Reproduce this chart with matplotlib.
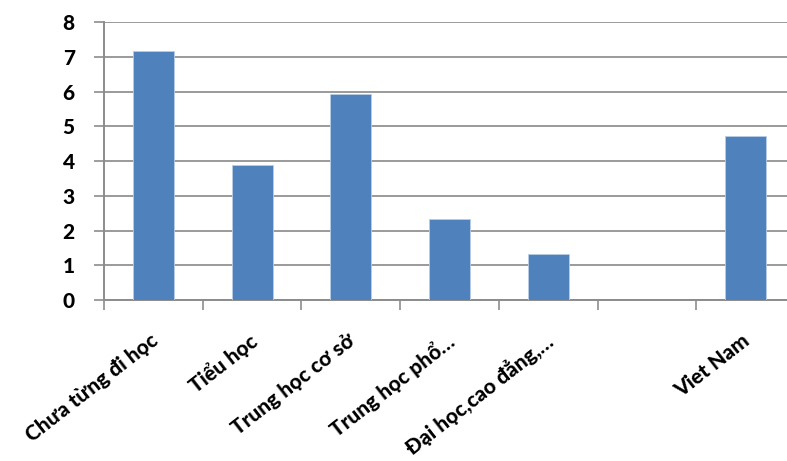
import matplotlib
matplotlib.use("Agg")
import matplotlib.pyplot as plt
import matplotlib.transforms as mtransforms

categories = ["Chưa từng đi học", "Tiểu học", "Trung học cơ sở", "Trung học phổ…",
              "Đại học,cao đẳng,…", "", "Viet Nam"]
values = [7.17, 3.89, 5.93, 2.32, 1.31, None, 4.73]
y_ticks = [0, 1, 2, 3, 4, 5, 6, 7, 8]

plt.rcParams['font.family'] = ['Lato', 'Open Sans', 'DejaVu Sans']

fig = plt.figure(figsize=(7.87, 4.61), dpi=100)
ax = fig.add_axes([104/787, 1-300/461, 691/787, 278/461])

xs = [i for i, v in enumerate(values) if v is not None]
vs = [v for v in values if v is not None]
ax.bar(xs, vs, width=0.415, color="#4F81BD", edgecolor="#B9CDE5", linewidth=0.6, zorder=3)

ax.set_xlim(-0.5, len(categories) - 0.5)
ax.set_ylim(0, 8)
ax.set_yticks(y_ticks)
ax.set_yticklabels([str(t) for t in y_ticks], fontsize=15, fontweight='black')
ax.yaxis.grid(True, color="#9A9A9A", linewidth=1.4, zorder=0)
ax.set_axisbelow(True)

# category boundaries as ticks
ax.set_xticks([i - 0.5 for i in range(len(categories) + 1)], minor=False)
ax.set_xticklabels([])
ax.set_xticks(list(range(len(categories))), minor=True)
ax.set_xticklabels(categories, minor=True, rotation=38, ha='right', va='top',
                   rotation_mode='anchor', fontsize=15, fontweight='black')
ax.tick_params(axis='x', which='minor', length=0, pad=22)
ax.tick_params(axis='x', which='major', length=7, width=1.2, color="#8C8C8C", direction='out')
ax.tick_params(axis='y', length=7, width=1.2, color="#8C8C8C", pad=14)
offset = mtransforms.ScaledTranslation(-4/100, 0, fig.dpi_scale_trans)
for lbl in ax.get_xticklabels(minor=True):
    lbl.set_transform(lbl.get_transform() + offset)

for s in ['top', 'right']:
    ax.spines[s].set_visible(False)
for s in ['left', 'bottom']:
    ax.spines[s].set_color("#8C8C8C")
    ax.spines[s].set_linewidth(1.4)

fig.savefig("out.png", dpi=100)
